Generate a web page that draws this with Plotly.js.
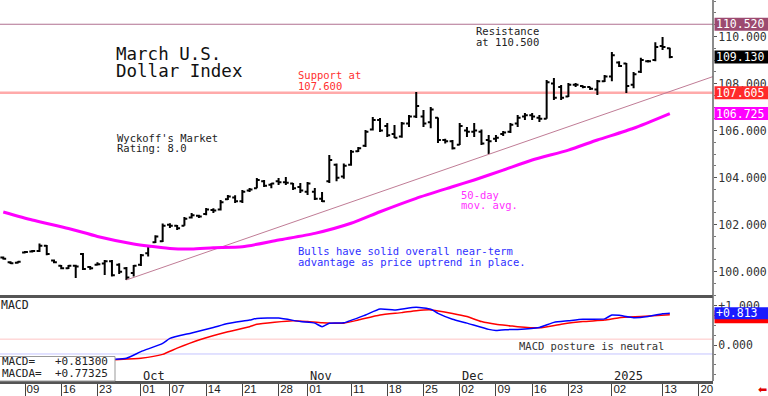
<!DOCTYPE html>
<html><head><meta charset="utf-8">
<script src="https://cdn.plot.ly/plotly-3.0.1.min.js"></script>
<style>html,body{margin:0;padding:0;background:#fff}#chart{width:768px;height:396px}</style>
</head><body><div id="chart"></div>
<script>
// trading sessions (x axis categories)
const sessions = [
'2024-09-04','2024-09-05','2024-09-06','2024-09-09','2024-09-10','2024-09-11','2024-09-12','2024-09-13',
'2024-09-16','2024-09-17','2024-09-18','2024-09-19','2024-09-20',
'2024-09-23','2024-09-24','2024-09-25','2024-09-26','2024-09-27','2024-09-30',
'2024-10-01','2024-10-02','2024-10-03','2024-10-04',
'2024-10-07','2024-10-08','2024-10-09','2024-10-10','2024-10-11',
'2024-10-14','2024-10-15','2024-10-16','2024-10-17','2024-10-18',
'2024-10-21','2024-10-22','2024-10-23','2024-10-24','2024-10-25',
'2024-10-28','2024-10-29','2024-10-30','2024-10-31','2024-11-01',
'2024-11-04','2024-11-05','2024-11-06','2024-11-07','2024-11-08',
'2024-11-11','2024-11-12','2024-11-13','2024-11-14','2024-11-15',
'2024-11-18','2024-11-19','2024-11-20','2024-11-21','2024-11-22',
'2024-11-25','2024-11-26','2024-11-27','2024-11-28','2024-11-29',
'2024-12-02','2024-12-03','2024-12-04','2024-12-05','2024-12-06',
'2024-12-09','2024-12-10','2024-12-11','2024-12-12','2024-12-13',
'2024-12-16','2024-12-17','2024-12-18','2024-12-19','2024-12-20',
'2024-12-23','2024-12-24','2024-12-26','2024-12-27',
'2024-12-30','2024-12-31','2025-01-02','2025-01-03',
'2025-01-06','2025-01-07','2025-01-08','2025-01-09','2025-01-10',
'2025-01-13','2025-01-14','2025-01-15','2025-01-16','2025-01-17',
'2025-01-20','2025-01-21'];

// daily OHLC, one per session starting 2024-09-04
const open = [100.60,100.40,100.38,100.82,100.86,100.88,101.10,100.48,100.25,100.15,100.25,100.75,100.20,100.30,100.35,100.45,100.30,100.15,99.95,
100.30,100.78,101.25,101.30,102.00,101.95,101.95,102.30,102.38,102.45,102.62,102.65,103.08,103.15,103.00,103.45,103.55,103.85,103.70,103.85,103.80,103.75,103.60,
103.40,103.40,103.10,103.85,104.55,104.05,104.55,105.12,105.35,106.05,106.45,106.20,105.85,105.75,106.30,106.60,106.60,106.35,106.55,105.60,105.55,
105.40,106.00,105.95,105.95,105.60,105.65,105.85,105.95,106.30,106.60,106.65,106.55,106.50,108.00,107.85,107.45,107.95,107.90,107.85,107.75,108.10,
108.30,108.90,108.85,107.95,108.50,108.95,109.00,109.60,109.50];
const high = [100.65,100.44,100.45,100.88,100.92,101.20,101.14,100.52,100.28,100.28,100.30,100.80,100.24,100.40,100.50,100.50,100.36,100.20,100.28,
100.75,101.12,101.55,102.05,102.06,101.99,102.33,102.50,102.42,102.71,102.70,103.05,103.26,103.25,103.47,103.56,103.98,103.90,103.77,103.98,104.03,103.77,103.77,
103.81,103.56,103.39,104.96,104.60,104.60,105.17,105.30,106.02,106.58,106.54,106.32,106.24,106.36,106.66,107.64,106.88,107.00,106.56,105.65,105.60,
106.32,106.15,106.32,106.05,105.81,105.81,105.98,106.32,106.66,106.75,106.75,106.66,108.15,108.24,107.94,108.02,108.02,107.92,107.86,108.15,108.36,
109.34,108.95,108.87,108.49,109.10,109.00,109.76,109.98,109.52];
const low = [100.52,100.33,100.35,100.78,100.82,100.84,100.70,100.36,100.10,100.12,99.73,100.07,100.08,100.26,99.86,99.80,99.90,99.65,99.80,
100.24,100.65,101.22,101.26,101.86,101.77,101.95,102.26,102.28,102.40,102.50,102.60,103.05,102.92,102.92,103.39,103.55,103.60,103.55,103.69,103.69,103.47,103.35,
103.26,103.05,102.96,103.77,103.85,103.95,104.50,105.09,105.30,106.00,105.94,105.73,105.68,105.70,106.15,106.54,106.15,106.10,105.47,105.45,105.20,
105.39,105.73,105.73,105.39,105.00,105.51,105.77,105.90,106.15,106.45,106.45,106.36,106.50,107.30,107.30,107.43,107.85,107.80,107.73,107.51,108.07,
108.10,108.70,107.60,107.80,108.45,108.90,108.95,109.43,109.08];
const close = [100.55,100.36,100.42,100.84,100.88,101.10,100.75,100.40,100.15,100.25,100.22,100.12,100.15,100.32,100.45,99.85,100.00,99.75,100.25,
100.70,101.08,101.50,101.95,101.95,101.85,102.25,102.40,102.35,102.65,102.60,102.95,103.20,103.00,103.40,103.50,103.90,103.65,103.75,103.80,103.78,103.55,103.45,
103.75,103.10,103.00,104.75,104.00,104.50,105.10,105.25,105.95,106.45,106.00,105.80,105.70,106.30,106.60,107.05,106.30,106.90,105.60,105.55,105.25,
106.20,105.95,106.00,105.45,105.55,105.70,105.92,106.25,106.55,106.65,106.60,106.50,108.05,107.40,107.40,107.95,107.95,107.85,107.78,108.10,108.30,
109.20,108.75,107.90,108.40,109.00,108.95,109.55,109.55,109.13];

// 50-day moving average, read at selected sessions
const maDates = ['2024-09-04','2024-09-10','2024-09-17','2024-09-23','2024-09-30','2024-10-02','2024-10-07','2024-10-10','2024-10-15','2024-10-21',
'2024-10-28','2024-11-04','2024-11-11','2024-11-15','2024-11-22','2024-11-29','2024-12-04','2024-12-10','2024-12-16','2024-12-23','2024-12-30','2025-01-07','2025-01-14'];
const maValues = [102.54,102.20,101.84,101.50,101.18,101.09,100.99,100.97,101.02,101.06,
101.35,101.63,102.06,102.55,103.12,103.61,103.90,104.32,104.75,105.17,105.60,106.10,106.725];

// MACD (blue) and MACDA signal (red)
const macdDates = ['2024-09-04','2024-09-16','2024-09-23','2024-09-25','2024-09-27','2024-10-01','2024-10-04','2024-10-07','2024-10-10','2024-10-15','2024-10-17',
'2024-10-22','2024-10-23','2024-10-28','2024-10-31','2024-11-04','2024-11-05','2024-11-06','2024-11-08','2024-11-13','2024-11-15','2024-11-19','2024-11-22',
'2024-11-26','2024-11-27','2024-11-29','2024-12-03','2024-12-06','2024-12-09','2024-12-11','2024-12-12','2024-12-17','2024-12-19','2024-12-23','2024-12-26',
'2024-12-31','2025-01-02','2025-01-03','2025-01-07','2025-01-09','2025-01-13','2025-01-14'];
const macdValues = [-0.55,-0.48,-0.40,-0.37,-0.34,-0.17,0.04,0.17,0.31,0.45,0.55,
0.64,0.68,0.69,0.60,0.56,0.47,0.56,0.57,0.77,0.92,0.90,0.97,
0.92,0.81,0.66,0.56,0.40,0.37,0.40,0.40,0.45,0.58,0.62,0.66,
0.67,0.77,0.76,0.70,0.73,0.80,0.813];
const signalDates = ['2024-09-04','2024-09-16','2024-09-25','2024-10-01','2024-10-04','2024-10-08','2024-10-11','2024-10-17','2024-10-22','2024-10-23',
'2024-10-30','2024-11-01','2024-11-05','2024-11-08','2024-11-12','2024-11-15','2024-11-20','2024-11-22','2024-11-26','2024-11-29','2024-12-03',
'2024-12-05','2024-12-09','2024-12-11','2024-12-12','2024-12-17','2024-12-20','2024-12-26','2024-12-31','2025-01-03','2025-01-08','2025-01-14'];
const signalValues = [-0.50,-0.45,-0.38,-0.34,-0.24,-0.08,0.13,0.34,0.47,0.53,
0.62,0.60,0.57,0.56,0.64,0.77,0.83,0.88,0.90,0.81,0.73,
0.60,0.53,0.49,0.47,0.44,0.53,0.60,0.64,0.70,0.73,0.77325];

// reference levels
const resistance = 110.52;
const support = 107.605;
const trendDates = ['2024-09-27','2025-01-14'];
const trendValues = [99.65, 107.66];

// axis labels
const tickDates = ['2024-09-09','2024-09-16','2024-09-23','2024-10-01','2024-10-07','2024-10-14','2024-10-21','2024-10-28','2024-11-01','2024-11-11',
'2024-11-18','2024-11-25','2024-12-02','2024-12-09','2024-12-16','2024-12-23','2025-01-02','2025-01-13','2025-01-20'];
const tickText = ['09','16','23','01','07','14','21','28','01','11','18','25','02','09','16','23','02','13','20'];
const monthDates = ['2024-10-01','2024-11-01','2024-12-02','2025-01-02'];
const monthText = ['Oct','Nov','Dec','2025'];

const idx = d => sessions.indexOf(d);
const barX = open.map((_, i) => i);
const XR = [-0.451, 97.96];
const W = 713, H = 381;
const px = (x) => x / W, py = (y) => (H - y) / H;
const MONO = 'DejaVu Sans Mono';
const Y1 = {dom:[py(296.5), 1], rng:[98.946, 111.552]};
const Y2 = {dom:[0, py(298.5)], rng:[-0.923, 1.192]};
const toPaper = (v, ax) => ax.dom[0] + (v - ax.rng[0]) / (ax.rng[1] - ax.rng[0]) * (ax.dom[1] - ax.dom[0]);

// trend line extended to the right edge
const t0 = idx(trendDates[0]), t1 = idx(trendDates[1]);
const slope = (trendValues[1] - trendValues[0]) / (t1 - t0);
const trendX = [t0, XR[1]];
const trendY = [trendValues[0], trendValues[0] + slope * (XR[1] - t0)];

const traces = [
  {type:'ohlc', x: barX, open, high, low, close, xaxis:'x', yaxis:'y',
   increasing:{line:{color:'#000', width:2}}, decreasing:{line:{color:'#000', width:2}},
   tickwidth:0.4, hoverinfo:'skip', showlegend:false},
  {type:'scatter', mode:'lines', x: trendX, y: trendY, xaxis:'x', yaxis:'y',
   line:{color:'#C07C96', width:1}, hoverinfo:'skip', showlegend:false},
  {type:'scatter', mode:'lines', x: maDates.map(idx), y: maValues, xaxis:'x', yaxis:'y',
   line:{color:'#FF00FF', width:3, shape:'spline', smoothing:0.6}, hoverinfo:'skip', showlegend:false},
  {type:'scatter', mode:'lines', x: signalDates.map(idx), y: signalValues, xaxis:'x', yaxis:'y2',
   line:{color:'#FF0000', width:1.5, shape:'spline', smoothing:0.5}, hoverinfo:'skip', showlegend:false},
  {type:'scatter', mode:'lines', x: macdDates.map(idx), y: macdValues, xaxis:'x', yaxis:'y2',
   line:{color:'#0000FF', width:1.5, shape:'spline', smoothing:0.5}, hoverinfo:'skip', showlegend:false}
];

const notes = [
 ['March U.S.', 115, 53.5, 17.5, '#111'],
 ['Dollar Index', 115, 70.5, 17.5, '#111'],
 ["Wyckoff's Market", 116, 137.5, 10.5, '#222'],
 ['Rating: 8.0', 116, 148, 10.5, '#222'],
 ['Resistance', 475, 31.5, 10.5, '#222'],
 ['at 110.500', 475, 42, 10.5, '#222'],
 ['Support at', 297, 75, 10.5, '#FF3030'],
 ['107.600', 297, 85.5, 10.5, '#FF3030'],
 ['50-day', 460, 195, 10.5, '#FF30FF'],
 ['mov. avg.', 460, 205.5, 10.5, '#FF30FF'],
 ['Bulls have solid overall near-term', 297, 251, 10.5, '#3030FF'],
 ['advantage as price uptrend in place.', 297, 261.5, 10.5, '#3030FF'],
 ['MACD posture is neutral', 518, 346, 10.5, '#333'],
 ['MACD', 0, 304.5, 11.5, '#222'],
 ['MACD=\u00a0\u00a0\u00a0' + '+' + macdValues[macdValues.length-1].toFixed(5), 1, 361.5, 11, '#222'],
 ['MACDA=\u00a0\u00a0' + '+' + signalValues[signalValues.length-1].toFixed(5), 1, 373.5, 11, '#222']
];
const annotations = notes.map(([t, x, y, s, c]) => ({
  text: t, xref:'paper', yref:'paper', x: px(x), y: py(y), xanchor:'left', yanchor:'middle',
  showarrow:false, borderpad:0, font:{family:MONO, size:s, color:c}
}));

monthDates.forEach((d, i) => annotations.push({
  text: monthText[i], xref:'x', yref:'paper', x: idx(d), y: py(375.5), xanchor:'left', yanchor:'middle',
  xshift:1, showarrow:false, borderpad:0, font:{family:MONO, size:12, color:'#222'}
}));

const shapes = [
  {type:'line', xref:'paper', yref:'y', x0:0, x1:1, y0:resistance, y1:resistance, line:{color:'#B07090', width:1.2}, layer:'below'},
  {type:'line', xref:'paper', yref:'y', x0:0, x1:1, y0:support, y1:support, line:{color:'#FFAAAA', width:2.5}, layer:'below'},
  {type:'line', xref:'paper', yref:'y2', x0:0, x1:1, y0:0.15, y1:0.15, line:{color:'#FFC4C4', width:1}, layer:'below'},
  {type:'line', xref:'paper', yref:'y2', x0:0, x1:1, y0:-0.23, y1:-0.23, line:{color:'#C4C4FF', width:1}, layer:'below'},
  {type:'line', xref:'paper', yref:'paper', x0:0, x1:1, y0:py(296.5), y1:py(296.5), line:{color:'#555', width:3}},
  {type:'line', xref:'paper', yref:'paper', x0:1, x1:1, y0:0, y1:1, line:{color:'#666', width:1.5}},
  {type:'rect', xref:'paper', yref:'paper', x0:-0.01, x1:px(115), y0:0, y1:py(356.5), line:{color:'#999', width:1}, fillcolor:'#fff', layer:'above'}
];

// value tags on the right axis
const lastClose = close[close.length-1];
const lastMA = maValues[maValues.length-1];
const lastMacd = macdValues[macdValues.length-1];
const lastSig = signalValues[signalValues.length-1];
function tag(v, ax, yref, bg, txt, half, shift) {
  const c = toPaper(v, ax) + (shift || 0) / H;
  shapes.push({type:'rect', xref:'paper', yref:'paper', x0:px(714.5), x1:px(768), y0:c - half / H, y1:c + half / H,
    line:{width:0}, fillcolor:bg, layer:'above'});
  if (txt) annotations.push({text: txt, xref:'paper', yref:'paper', x:1, y:c, xanchor:'left', yanchor:'middle', xshift:1.5,
    showarrow:false, borderpad:0, font:{family:MONO, size:11.5, color:'#fff'}});
}
tag(resistance, Y1, 'y', '#9C4A70', resistance.toFixed(3), 6.5);
tag(lastClose, Y1, 'y', '#000', lastClose.toFixed(3), 6.5);
tag(support, Y1, 'y', '#FF2A2A', support.toFixed(3), 6.5);
tag(lastMA, Y1, 'y', '#FF00FF', lastMA.toFixed(3), 6.5);
tag(lastSig, Y2, 'y2', '#FF0000', '', 6.5, -2);
tag(lastMacd, Y2, 'y2', '#1A1AFF', '+' + lastMacd.toFixed(3), 6);
annotations.push({text:'\u2B05', xref:'paper', yref:'paper', x: px(762), y: py(389), xanchor:'center', yanchor:'middle',
  showarrow:false, font:{family:'DejaVu Sans', size:11, color:'#E00000'}});

const layout = {
  width:768, height:396, margin:{l:0, r:55, t:0, b:15},
  paper_bgcolor:'#fff', plot_bgcolor:'#fff', showlegend:false, hovermode:false,
  font:{family:MONO, color:'#222'},
  xaxis:{range:XR, anchor:'y2', showgrid:false, zeroline:false, showline:true, linecolor:'#555', linewidth:3,
    ticks:'outside', ticklen:15, tickwidth:1, tickcolor:'#444',
    tickvals: tickDates.map(idx), ticktext: tickText,
    tickfont:{family:'Liberation Sans', size:11.5, color:'#222'},
    ticklabelshift:8, ticklabelstandoff:-20,
    rangeslider:{visible:false}, fixedrange:true},
  yaxis:{domain:Y1.dom, range:Y1.rng, side:'right', anchor:'x',
    showgrid:false, zeroline:false, ticks:'outside', ticklen:3, tickcolor:'#555',
    tick0:100, dtick:2, tickformat:'.3f', tickfont:{family:MONO, size:11.5, color:'#333'},
    ticklabelstandoff:-1,
    minor:{dtick:0.5, ticklen:2, ticks:'outside', tickcolor:'#777'}, fixedrange:true},
  yaxis2:{domain:Y2.dom, range:Y2.rng, side:'right', anchor:'x',
    showgrid:false, zeroline:false, ticks:'outside', ticklen:3, tickcolor:'#555',
    tickvals:[0, 1], ticktext:['0.000', '+1.000'], tickfont:{family:MONO, size:11.5, color:'#333'},
    ticklabelstandoff:-1,
    minor:{dtick:0.25, ticklen:2, ticks:'outside', tickcolor:'#777'}, fixedrange:true},
  annotations, shapes
};

Plotly.newPlot('chart', traces, layout, {staticPlot:true, displayModeBar:false});
</script></body></html>
